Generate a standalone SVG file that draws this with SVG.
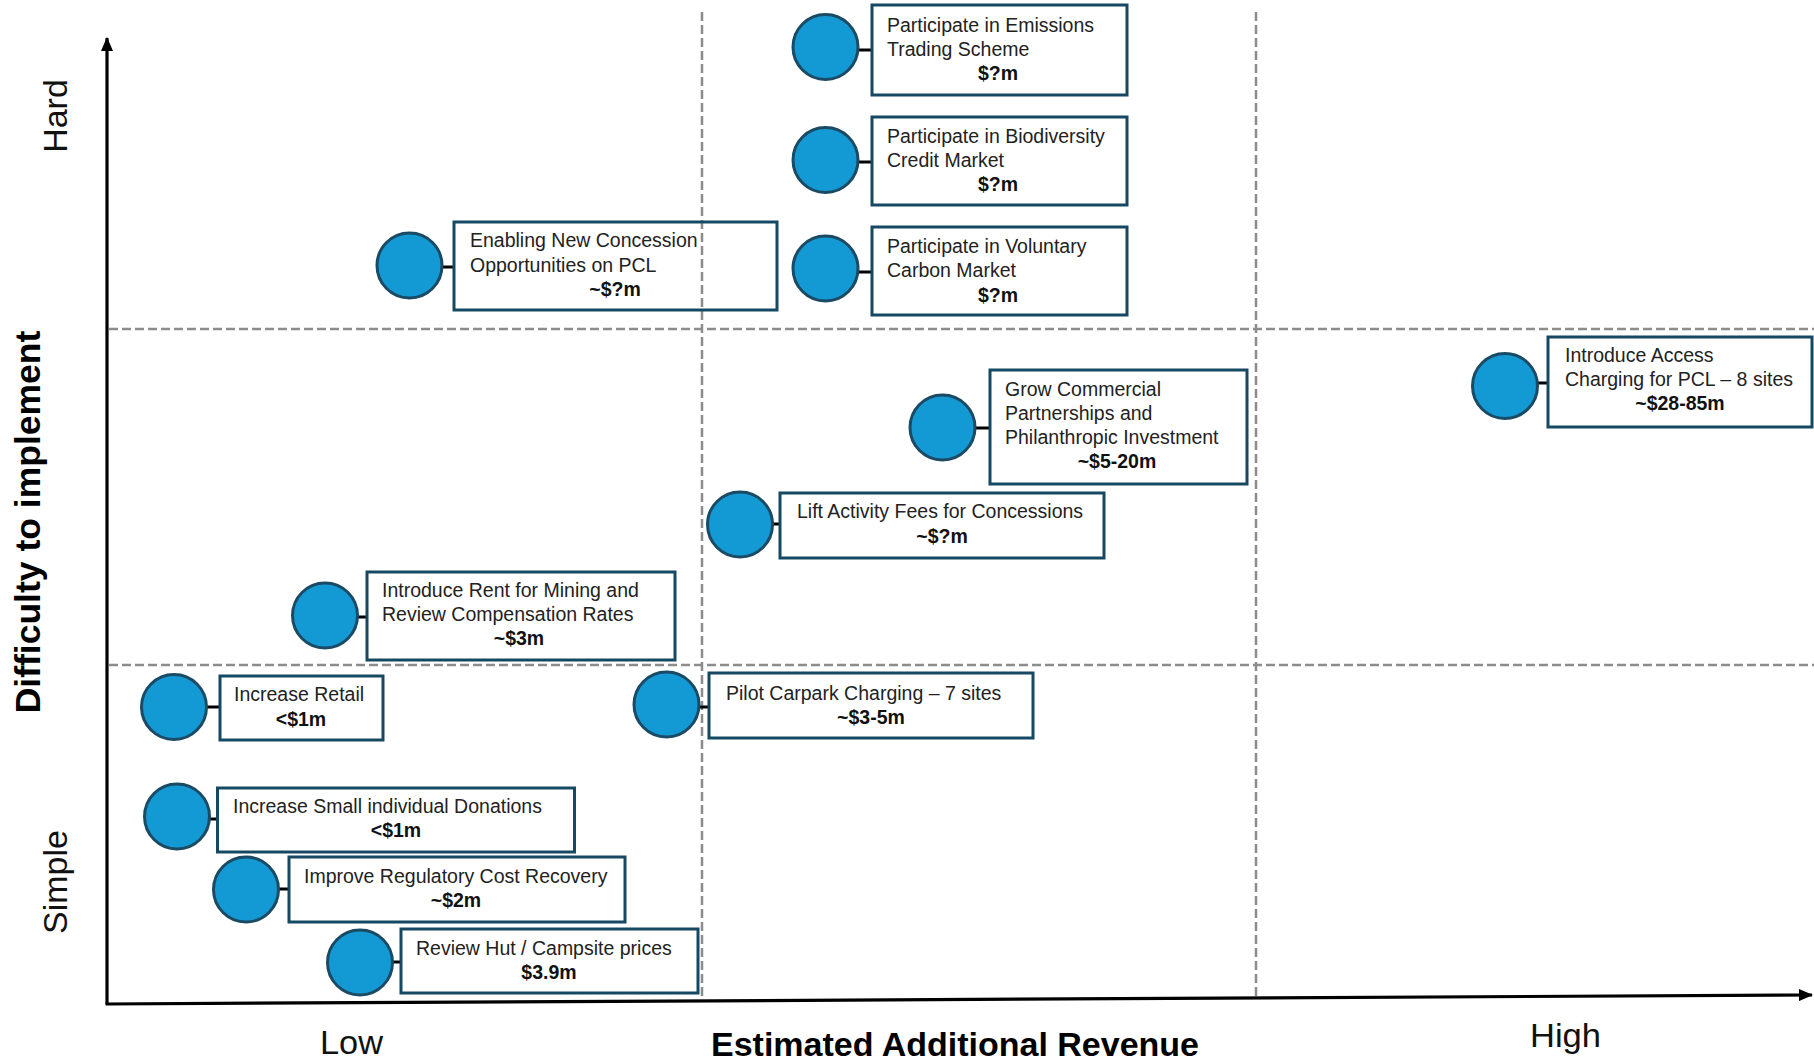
<svg xmlns="http://www.w3.org/2000/svg" width="1814" height="1062" viewBox="0 0 1814 1062">
<defs>
<style>
.grid{stroke:#8c8c8c;stroke-width:2.5;stroke-dasharray:9 4;fill:none}
.axis{stroke:#000;stroke-width:3.2;fill:none}
.dot{fill:#1399d4;stroke:#1b4a64;stroke-width:3}
.box{fill:none;stroke:#174862;stroke-width:3}
.conn{stroke:#000;stroke-width:3}
.t{font-family:"Liberation Sans",Arial,sans-serif;font-size:19.5px;fill:#222}
.v{font-family:"Liberation Sans",Arial,sans-serif;font-size:19.5px;font-weight:bold;fill:#111;text-anchor:middle}
.ax{font-family:"Liberation Sans",Arial,sans-serif;font-size:34px;fill:#111}
.axb{font-family:"Liberation Sans",Arial,sans-serif;font-size:34px;font-weight:bold;fill:#000}
</style>
<marker id="arr" viewBox="0 0 14 12" refX="13" refY="6" markerWidth="14" markerHeight="12" markerUnits="userSpaceOnUse" orient="auto">
<path d="M0,0 L14,6 L0,12 Z" fill="#000"/>
</marker>
</defs>
<rect width="1814" height="1062" fill="#fff"/>
<g id="grid">
<line class="grid" x1="702" y1="12" x2="702" y2="1000"/>
<line class="grid" x1="1256" y1="12" x2="1256" y2="996"/>
<line class="grid" x1="109" y1="329" x2="1814" y2="329"/>
<line class="grid" x1="109" y1="665" x2="1814" y2="665"/>
</g>
<g id="axes">
<line class="axis" x1="107" y1="1004" x2="107" y2="38" marker-end="url(#arr)"/>
<line class="axis" x1="105.5" y1="1004" x2="1812" y2="995" marker-end="url(#arr)"/>
<text class="ax" transform="translate(67,116) rotate(-90)" text-anchor="middle">Hard</text>
<text class="ax" transform="translate(67,882) rotate(-90)" text-anchor="middle">Simple</text>
<text class="axb" transform="translate(40,522) rotate(-90)" text-anchor="middle" style="font-size:35.5px">Difficulty to implement</text>
<text class="ax" x="320" y="1054" textLength="63" lengthAdjust="spacingAndGlyphs">Low</text>
<text class="axb" x="955" y="1056" text-anchor="middle">Estimated Additional Revenue</text>
<text class="ax" x="1530" y="1047" textLength="71" lengthAdjust="spacingAndGlyphs">High</text>
</g>
<g id="connectors">
<line class="conn" x1="858" y1="50" x2="872" y2="50"/>
<line class="conn" x1="858" y1="162" x2="872" y2="162"/>
<line class="conn" x1="858" y1="272" x2="872" y2="272"/>
<line class="conn" x1="442" y1="267" x2="454" y2="267"/>
<line class="conn" x1="975" y1="428" x2="990" y2="428"/>
<line class="conn" x1="1537" y1="383" x2="1548" y2="383"/>
<line class="conn" x1="772" y1="524" x2="780" y2="524"/>
<line class="conn" x1="699" y1="707" x2="709" y2="707"/>
<line class="conn" x1="357" y1="617" x2="367" y2="617"/>
<line class="conn" x1="206" y1="707" x2="220" y2="707"/>
<line class="conn" x1="209" y1="819" x2="217" y2="819"/>
<line class="conn" x1="278" y1="889" x2="289" y2="889"/>
<line class="conn" x1="392" y1="962" x2="401" y2="962"/>
</g>
<g id="n-emissions">
<circle class="dot" cx="825.5" cy="47" r="32.5"/>
<rect class="box" x="872" y="5" width="255" height="90"/>
<text class="t" x="887" y="32">Participate in Emissions</text>
<text class="t" x="887" y="56">Trading Scheme</text>
<text class="v" x="998" y="80">$?m</text>
</g>
<g id="n-biodiversity">
<circle class="dot" cx="825.5" cy="160" r="32.5"/>
<rect class="box" x="872" y="117" width="255" height="88"/>
<text class="t" x="887" y="143">Participate in Biodiversity</text>
<text class="t" x="887" y="167">Credit Market</text>
<text class="v" x="998" y="191">$?m</text>
</g>
<g id="n-voluntary">
<circle class="dot" cx="825.5" cy="268.5" r="32.5"/>
<rect class="box" x="872" y="227" width="255" height="88"/>
<text class="t" x="887" y="253">Participate in Voluntary</text>
<text class="t" x="887" y="277">Carbon Market</text>
<text class="v" x="998" y="302">$?m</text>
</g>
<g id="n-concession">
<circle class="dot" cx="409.5" cy="265.5" r="32.5"/>
<rect class="box" x="454" y="222" width="323" height="88"/>
<text class="t" x="470" y="247">Enabling New Concession</text>
<text class="t" x="470" y="272">Opportunities on PCL</text>
<text class="v" x="615" y="296">~$?m</text>
</g>
<g id="n-commercial">
<circle class="dot" cx="942.5" cy="427.5" r="32.5"/>
<rect class="box" x="990" y="370" width="257" height="114"/>
<text class="t" x="1005" y="396">Grow Commercial</text>
<text class="t" x="1005" y="420">Partnerships and</text>
<text class="t" x="1005" y="444">Philanthropic Investment</text>
<text class="v" x="1117" y="468">~$5-20m</text>
</g>
<g id="n-access">
<circle class="dot" cx="1505" cy="386" r="32.5"/>
<rect class="box" x="1548" y="337" width="264" height="90"/>
<text class="t" x="1565" y="362">Introduce Access</text>
<text class="t" x="1565" y="386">Charging for PCL – 8 sites</text>
<text class="v" x="1680" y="410">~$28-85m</text>
</g>
<g id="n-activity">
<circle class="dot" cx="740" cy="524.5" r="32.5"/>
<rect class="box" x="780" y="493" width="324" height="65"/>
<text class="t" x="797" y="518">Lift Activity Fees for Concessions</text>
<text class="v" x="942" y="543">~$?m</text>
</g>
<g id="n-carpark">
<circle class="dot" cx="666.5" cy="704.5" r="32.5"/>
<rect class="box" x="709" y="673" width="324" height="65"/>
<text class="t" x="726" y="700">Pilot Carpark Charging – 7 sites</text>
<text class="v" x="871" y="724">~$3-5m</text>
</g>
<g id="n-mining">
<circle class="dot" cx="325" cy="615.5" r="32.5"/>
<rect class="box" x="367" y="572" width="308" height="88"/>
<text class="t" x="382" y="597">Introduce Rent for Mining and</text>
<text class="t" x="382" y="621">Review Compensation Rates</text>
<text class="v" x="519" y="645">~$3m</text>
</g>
<g id="n-retail">
<circle class="dot" cx="174" cy="707" r="32.5"/>
<rect class="box" x="220" y="676" width="163" height="64"/>
<text class="t" x="234" y="701">Increase Retail</text>
<text class="v" x="301" y="726">&lt;$1m</text>
</g>
<g id="n-donations">
<circle class="dot" cx="177" cy="816.5" r="32.5"/>
<rect class="box" x="217.5" y="788" width="357" height="64"/>
<text class="t" x="233" y="813">Increase Small individual Donations</text>
<text class="v" x="396" y="837">&lt;$1m</text>
</g>
<g id="n-regulatory">
<circle class="dot" cx="246" cy="889.5" r="32.5"/>
<rect class="box" x="289" y="857" width="336" height="65"/>
<text class="t" x="304" y="883">Improve Regulatory Cost Recovery</text>
<text class="v" x="456" y="907">~$2m</text>
</g>
<g id="n-hut">
<circle class="dot" cx="360" cy="962.5" r="32.5"/>
<rect class="box" x="401" y="929" width="297" height="64"/>
<text class="t" x="416" y="955">Review Hut / Campsite prices</text>
<text class="v" x="549" y="979">$3.9m</text>
</g>
</svg>
